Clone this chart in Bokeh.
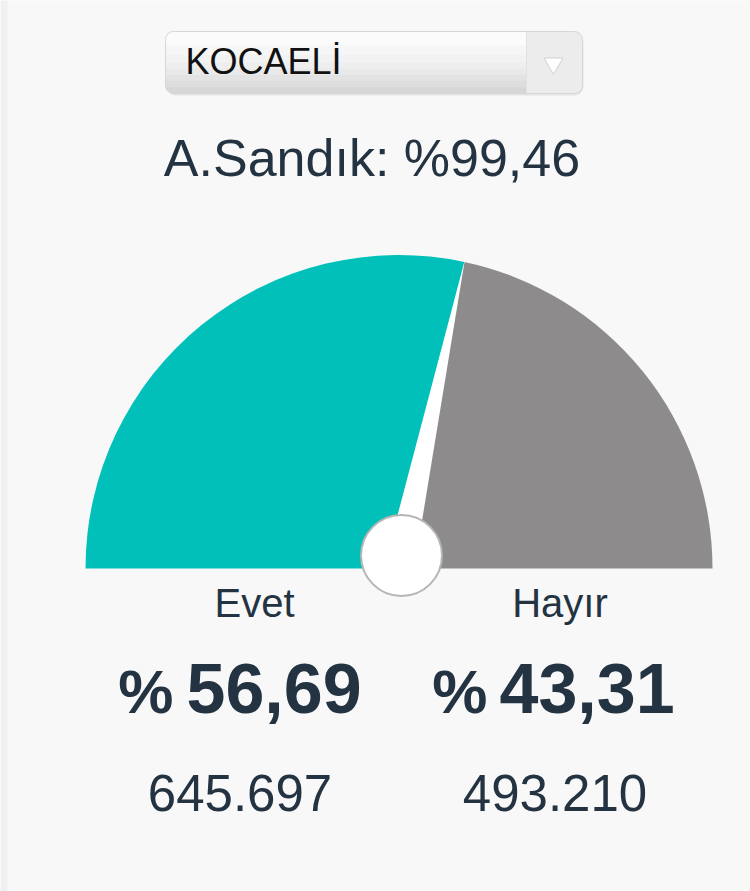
import math
from bokeh.plotting import figure
from bokeh.models import Range1d
from bokeh.core.properties import value
from bokeh.embed import file_html
from bokeh.resources import INLINE

# ---- data ----
province = "KOCAELİ"
opened_ballot_pct = 99.46
choices = ["Evet", "Hayır"]
percents = [56.69, 43.31]
votes = [645697, 493210]

def tr_pct(v):
    return f"{v:.2f}".replace(".", ",")

def tr_int(v):
    return f"{v:,}".replace(",", ".")

W, H = 750, 891
p = figure(width=W, height=H, output_backend="svg", toolbar_location=None,
           x_range=Range1d(0, W), y_range=Range1d(0, H), min_border=0,
           background_fill_color="#f8f8f8", border_fill_color="#f8f8f8",
           outline_line_color=None)
p.axis.visible = False
p.grid.visible = False

TXT = "#243342"
FONT = value("Liberation Sans")

def base_y(page_baseline, size):
    # page baseline -> data y, corrected for the renderer's text offset
    return H - (page_baseline - 0.39 * size)

# left page strip
p.quad(left=[0], right=[7], top=[H], bottom=[0], fill_color="#eef0f2", line_color=None)

# ---- dropdown ----
bl, br, bt, bb = 165, 582, 860, 798
p.quad(left=[bl + 1], right=[br + 1], top=[bt - 2], bottom=[bb - 2], fill_color="#e4e4e4",
       line_color=None, border_radius=9)
steps = [(1.0, "#d7d7d7"), (0.9, "#dddddd"), (0.8, "#e3e3e3"), (0.7, "#e9e9e9"),
         (0.6, "#eeeeee"), (0.5, "#f2f2f2"), (0.38, "#f6f6f6"), (0.22, "#fbfbfb")]
for i, (f, c) in enumerate(steps):
    rad = 8 if i == 0 else (8, 8, 0, 0)
    p.quad(left=[bl], right=[br], top=[bt], bottom=[bt - f * (bt - bb)], fill_color=c,
           line_color=None, border_radius=rad)
p.quad(left=[526], right=[br], top=[bt], bottom=[bb], fill_color="#ececec",
       line_color=None, border_radius=(0, 8, 8, 0))
p.segment(x0=[526], y0=[bt], x1=[526], y1=[bb], line_color="#e2e2e2", line_width=1)
p.quad(left=[bl], right=[br], top=[bt], bottom=[bb], fill_color=None,
       line_color="#d6d6d6", line_width=1, border_radius=8)
p.scatter(x=[553], y=[828], marker="inverted_triangle", size=19,
          fill_color="#ffffff", line_color="#cfcfcf", line_width=1)
p.text(x=[185], y=[base_y(75, 36)], text=[province], text_font=FONT, text_font_size="36px",
       text_color="#111111", text_align="left", text_baseline="alphabetic")

# ---- title ----
p.text(x=[371.5], y=[base_y(178, 52)], text=[f"A.Sandık: %{tr_pct(opened_ballot_pct)}"],
       text_font=FONT, text_font_size="52px", text_color=TXT, text_align="center",
       text_baseline="alphabetic")

# ---- gauge ----
cx, cy, r = 398.5, 323, 313.5
theta = math.pi * (1 - percents[0] / 100.0)
p.wedge(x=[cx], y=[cy], radius=r, start_angle=theta, end_angle=math.pi,
        fill_color="#00c0b9", line_color=None)
p.wedge(x=[cx], y=[cy], radius=r, start_angle=0, end_angle=theta,
        fill_color="#8d8b8c", line_color=None)

hw = 15
tip = (cx + (r + 2) * math.cos(theta), cy + (r + 2) * math.sin(theta))
b1 = (cx + hw * math.sin(theta), cy - hw * math.cos(theta))
b2 = (cx - hw * math.sin(theta), cy + hw * math.cos(theta))
p.patch(x=[tip[0], b1[0], b2[0]], y=[tip[1], b1[1], b2[1]], fill_color="#ffffff",
        line_color=None)
p.circle(x=[cx + 2.5], y=[cy + 13], radius=40.5, fill_color="#ffffff",
         line_color="#b5b5b5", line_width=2)

# ---- labels ----
label_x = [254, 559.5]
pct_sign_x = [173, 487]
pct_num_x = [186, 499]
vote_x = [239.5, 554.5]
for i in range(2):
    p.text(x=[label_x[i]], y=[base_y(618, 40)], text=[choices[i]], text_font=FONT,
           text_font_size="40px", text_color=TXT, text_align="center",
           text_baseline="alphabetic")
    p.text(x=[pct_sign_x[i]], y=[base_y(715, 62)], text=["%"], text_font=FONT,
           text_font_size="62px", text_font_style="bold", text_color=TXT,
           text_align="right", text_baseline="alphabetic")
    p.text(x=[pct_num_x[i]], y=[base_y(715, 70)], text=[tr_pct(percents[i])], text_font=FONT,
           text_font_size="70px", text_font_style="bold", text_color=TXT,
           text_align="left", text_baseline="alphabetic")
    p.text(x=[vote_x[i]], y=[base_y(812, 51)], text=[tr_int(votes[i])], text_font=FONT,
           text_font_size="51px", text_color=TXT, text_align="center",
           text_baseline="alphabetic")

open("out.html", "w").write(file_html(p, INLINE))
